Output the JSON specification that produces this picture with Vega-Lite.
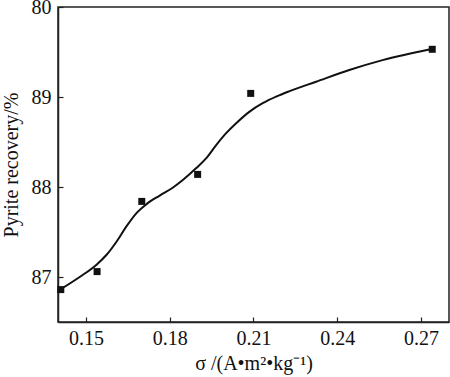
{
  "$schema": "https://vega.github.io/schema/vega-lite/v6.json",
  "width": 391,
  "height": 315,
  "autosize": "none",
  "padding": {"left": 58, "top": 7, "right": 1, "bottom": 55},
  "background": "white",
  "config": {
    "font": "Liberation Serif",
    "view": {"stroke": "#222", "strokeWidth": 1.5},
    "axis": {
      "grid": false,
      "domainColor": "#222",
      "domainWidth": 1.5,
      "tickColor": "#222",
      "tickWidth": 1.2,
      "tickSize": -5,
      "labelFont": "Liberation Serif",
      "labelFontSize": 20,
      "labelColor": "#111",
      "titleFont": "Liberation Serif",
      "titleFontSize": 20,
      "titleFontWeight": "normal",
      "titleColor": "#111"
    }
  },
  "datasets": {
    "pts": [
      {"s": 0.141, "r": 86.86},
      {"s": 0.154, "r": 87.06},
      {"s": 0.170, "r": 87.84},
      {"s": 0.190, "r": 88.14},
      {"s": 0.209, "r": 89.04},
      {"s": 0.274, "r": 89.53}
    ],
    "fit": [
      {"s": 0.1411, "r": 86.867},
      {"s": 0.1479, "r": 87.003},
      {"s": 0.1538, "r": 87.137},
      {"s": 0.1574, "r": 87.247},
      {"s": 0.1610, "r": 87.395},
      {"s": 0.1645, "r": 87.562},
      {"s": 0.1681, "r": 87.710},
      {"s": 0.1717, "r": 87.810},
      {"s": 0.1764, "r": 87.905},
      {"s": 0.1812, "r": 87.995},
      {"s": 0.1848, "r": 88.080},
      {"s": 0.1895, "r": 88.210},
      {"s": 0.1931, "r": 88.321},
      {"s": 0.1967, "r": 88.468},
      {"s": 0.2002, "r": 88.598},
      {"s": 0.2038, "r": 88.709},
      {"s": 0.2086, "r": 88.838},
      {"s": 0.2133, "r": 88.931},
      {"s": 0.2181, "r": 89.004},
      {"s": 0.2229, "r": 89.065},
      {"s": 0.2324, "r": 89.170},
      {"s": 0.2443, "r": 89.300},
      {"s": 0.2562, "r": 89.410},
      {"s": 0.2737, "r": 89.534}
    ]
  },
  "encoding": {
    "x": {
      "field": "s",
      "type": "quantitative",
      "scale": {"domain": [0.14, 0.28], "nice": false, "zero": false},
      "axis": {
        "values": [0.15, 0.18, 0.21, 0.24, 0.27],
        "format": ".2f",
        "labelPadding": 11,
        "title": "σ /(A•m²•kg⁻¹)",
        "titlePadding": 5
      }
    },
    "y": {
      "field": "r",
      "type": "quantitative",
      "scale": {"domain": [86.5, 90], "nice": false, "zero": false},
      "axis": {
        "values": [87, 88, 89, 90],
        "labelExpr": "datum.value == 90 ? '80' : datum.label",
        "labelPadding": 12,
        "title": "Pyrite recovery/%",
        "titlePadding": 10
      }
    }
  },
  "layer": [
    {
      "data": {"name": "fit"},
      "mark": {"type": "line", "interpolate": "monotone", "color": "#111", "strokeWidth": 2}
    },
    {
      "data": {"name": "pts"},
      "mark": {"type": "square", "size": 49, "color": "#111", "opacity": 1, "filled": true}
    }
  ]
}
